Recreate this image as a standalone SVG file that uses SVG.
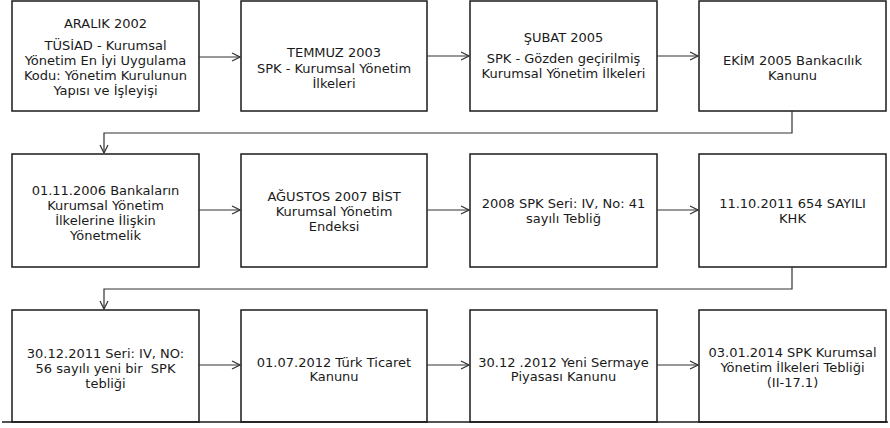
<svg xmlns="http://www.w3.org/2000/svg" width="890" height="428" viewBox="0 0 890 428">
<style>
.box{fill:#fff;stroke:#1a1a1a;stroke-width:1.5}
.t{font-family:"DejaVu Sans",sans-serif;font-size:13px;fill:#1a1a1a;text-anchor:middle}
.c{fill:none;stroke:#333;stroke-width:1.2}
</style>
<defs>
<marker id="ah" viewBox="0 0 10 10" refX="9" refY="5" markerWidth="10" markerHeight="10" markerUnits="userSpaceOnUse" orient="auto">
<path d="M1,1 L9,5 L1,9" fill="none" stroke="#333" stroke-width="1.2"/>
</marker>
</defs>
<rect width="890" height="428" fill="#fff"/>
<g id="n1"><rect class="box" x="12" y="1" width="187" height="110"/>
<text class="t" x="105.5" y="28">ARALIK 2002</text>
<text class="t" x="105.5" y="50">TÜSİAD - Kurumsal</text>
<text class="t" x="105.5" y="65">Yönetim En İyi Uygulama</text>
<text class="t" x="105.5" y="80">Kodu: Yönetim Kurulunun</text>
<text class="t" x="105.5" y="95">Yapısı ve İşleyişi</text></g>
<g id="n2"><rect class="box" x="241" y="1" width="186" height="110"/>
<text class="t" x="334" y="57">TEMMUZ 2003</text>
<text class="t" x="334" y="73">SPK - Kurumsal Yönetim</text>
<text class="t" x="334" y="88">İlkeleri</text></g>
<g id="n3"><rect class="box" x="470" y="1" width="187" height="110"/>
<text class="t" x="563.5" y="42">ŞUBAT 2005</text>
<text class="t" x="563.5" y="63">SPK - Gözden geçirilmiş</text>
<text class="t" x="563.5" y="78">Kurumsal Yönetim İlkeleri</text></g>
<g id="n4"><rect class="box" x="699" y="1" width="187" height="110"/>
<text class="t" x="792.5" y="65">EKİM 2005 Bankacılık</text>
<text class="t" x="792.5" y="80">Kanunu</text></g>
<g id="n5"><rect class="box" x="12" y="154" width="187" height="113"/>
<text class="t" x="105.5" y="195">01.11.2006 Bankaların</text>
<text class="t" x="105.5" y="210">Kurumsal Yönetim</text>
<text class="t" x="105.5" y="225">İlkelerine İlişkin</text>
<text class="t" x="105.5" y="240">Yönetmelik</text></g>
<g id="n6"><rect class="box" x="241" y="154" width="186" height="113"/>
<text class="t" x="334" y="201">AĞUSTOS 2007 BİST</text>
<text class="t" x="334" y="216">Kurumsal Yönetim</text>
<text class="t" x="334" y="231">Endeksi</text></g>
<g id="n7"><rect class="box" x="470" y="154" width="187" height="113"/>
<text class="t" x="563.5" y="208">2008 SPK Seri: IV, No: 41</text>
<text class="t" x="563.5" y="223">sayılı Tebliğ</text></g>
<g id="n8"><rect class="box" x="699" y="154" width="187" height="113"/>
<text class="t" x="792.5" y="208">11.10.2011 654 SAYILI</text>
<text class="t" x="792.5" y="223">KHK</text></g>
<g id="n9"><rect class="box" x="12" y="310" width="187" height="112"/>
<text class="t" x="105.5" y="358">30.12.2011 Seri: IV, NO:</text>
<text class="t" x="105.5" y="373" xml:space="preserve">56 sayılı yeni bir  SPK</text>
<text class="t" x="105.5" y="388">tebliği</text></g>
<g id="n10"><rect class="box" x="241" y="310" width="186" height="112"/>
<text class="t" x="334" y="367">01.07.2012 Türk Ticaret</text>
<text class="t" x="334" y="381">Kanunu</text></g>
<g id="n11"><rect class="box" x="470" y="310" width="187" height="112"/>
<text class="t" x="563.5" y="367">30.12 .2012 Yeni Sermaye</text>
<text class="t" x="563.5" y="381">Piyasası Kanunu</text></g>
<g id="n12"><rect class="box" x="699" y="310" width="187" height="112"/>
<text class="t" x="792.5" y="357">03.01.2014 SPK Kurumsal</text>
<text class="t" x="792.5" y="372">Yönetim İlkeleri Tebliği</text>
<text class="t" x="792.5" y="387">(II-17.1)</text></g>
<g id="connectors">
<path class="c" d="M199,57 H240" marker-end="url(#ah)"/>
<path class="c" d="M427,56 H469" marker-end="url(#ah)"/>
<path class="c" d="M657,56 H698" marker-end="url(#ah)"/>
<path class="c" d="M792,111 V133 H104 V153" marker-end="url(#ah)"/>
<path class="c" d="M199,210 H240" marker-end="url(#ah)"/>
<path class="c" d="M427,210 H469" marker-end="url(#ah)"/>
<path class="c" d="M657,210 H698" marker-end="url(#ah)"/>
<path class="c" d="M792,267 V289 H104 V309" marker-end="url(#ah)"/>
<path class="c" d="M199,365 H240" marker-end="url(#ah)"/>
<path class="c" d="M427,365 H469" marker-end="url(#ah)"/>
<path class="c" d="M657,365 H698" marker-end="url(#ah)"/>
</g>
<line x1="2" y1="422" x2="888" y2="422" stroke="#1a1a1a" stroke-width="1.5"/>
</svg>
